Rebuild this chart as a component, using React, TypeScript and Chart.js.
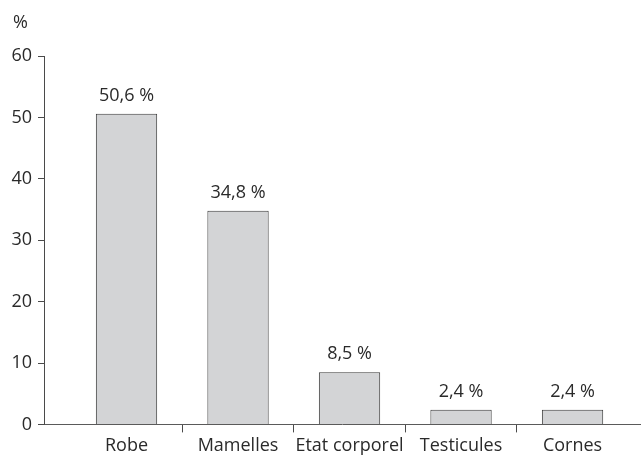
import React, { useEffect, useRef } from "react";
import { Chart, registerables } from "chart.js";

Chart.register(...registerables);

// Categories and shares (%)
const categories = ["Robe", "Mamelles", "Etat corporel", "Testicules", "Cornes"];
const shares = [50.6, 34.8, 8.5, 2.4, 2.4];
const yTicks = [0, 10, 20, 30, 40, 50, 60];
const unitLabel = "%";

const FONT = "'Open Sans', 'DejaVu Sans', sans-serif";
const TEXT = "#2a2a2a";
const AXIS = "#4a4a4a";

const formatShare = (v: number) => `${v.toFixed(1).replace(".", ",")} %`;

// Value labels above every bar, plus the unit caption above the y axis
const annotations = {
  id: "annotations",
  afterDatasetsDraw(chart: any) {
    const { ctx, chartArea } = chart;
    const meta = chart.getDatasetMeta(0);
    ctx.save();
    ctx.fillStyle = TEXT;
    ctx.font = `18px ${FONT}`;
    ctx.textAlign = "center";
    ctx.textBaseline = "alphabetic";
    meta.data.forEach((bar: any, i: number) => {
      ctx.fillText(formatShare(shares[i]), bar.x, bar.y - 13);
    });
    ctx.textAlign = "left";
    ctx.fillText(unitLabel, chart.scales.y.left + 13, chartArea.top - 28);
    ctx.restore();
  },
};

export default function App() {
  const canvasRef = useRef<HTMLCanvasElement | null>(null);

  useEffect(() => {
    if (!canvasRef.current) return;
    const points = shares.map((v, i) => ({ x: i, y: v }));
    const chart = new Chart(canvasRef.current, {
      type: "bar",
      data: {
        datasets: [
          {
            data: points,
            backgroundColor: "#d3d4d6",
            borderColor: "#3a3a3a",
            borderWidth: 1,
            // the ruler also counts the half-step separator ticks
            barPercentage: 1.1,
            categoryPercentage: 1,
          },
        ],
      },
      options: {
        animation: false,
        responsive: true,
        maintainAspectRatio: false,
        layout: { padding: { top: 56, right: 1, left: 0, bottom: 0 } },
        plugins: {
          legend: { display: false },
          tooltip: { enabled: false },
        },
        scales: {
          x: {
            type: "linear",
            offset: false,
            min: -0.74,
            max: 4.605,
            afterBuildTicks(scale: any) {
              const ticks = [];
              for (let i = 0; i < categories.length; i++) {
                ticks.push({ value: i });
                if (i < categories.length - 1) ticks.push({ value: i + 0.5 });
              }
              scale.ticks = ticks;
            },
            ticks: {
              autoSkip: false,
              maxRotation: 0,
              padding: 3,
              color: TEXT,
              font: { family: FONT, size: 18 },
              callback: (value: any) =>
                Number.isInteger(value) ? categories[value] : "",
            },
            grid: {
              offset: false,
              drawOnChartArea: false,
              drawTicks: true,
              tickLength: 8,
              color: (ctx: any) =>
                ctx.tick && !Number.isInteger(ctx.tick.value) ? AXIS : "rgba(0,0,0,0)",
            },
            border: { display: true, color: "#5a5a5a", width: 1 },
          },
          y: {
            min: 0,
            max: 60,
            afterBuildTicks(scale: any) {
              scale.ticks = yTicks.map((v) => ({ value: v }));
            },
            afterFit(scale: any) {
              scale.width = 44;
            },
            ticks: {
              padding: 6,
              color: TEXT,
              font: { family: FONT, size: 18 },
            },
            grid: {
              drawOnChartArea: false,
              drawTicks: true,
              tickLength: 6,
              color: AXIS,
            },
            border: { display: true, color: AXIS, width: 1 },
          },
        },
      },
      plugins: [annotations],
    });
    return () => chart.destroy();
  }, []);

  return (
    <div style={{ position: "fixed", left: 0, top: 0, width: 641, height: 460, background: "#fff" }}>
      <canvas ref={canvasRef} />
    </div>
  );
}
